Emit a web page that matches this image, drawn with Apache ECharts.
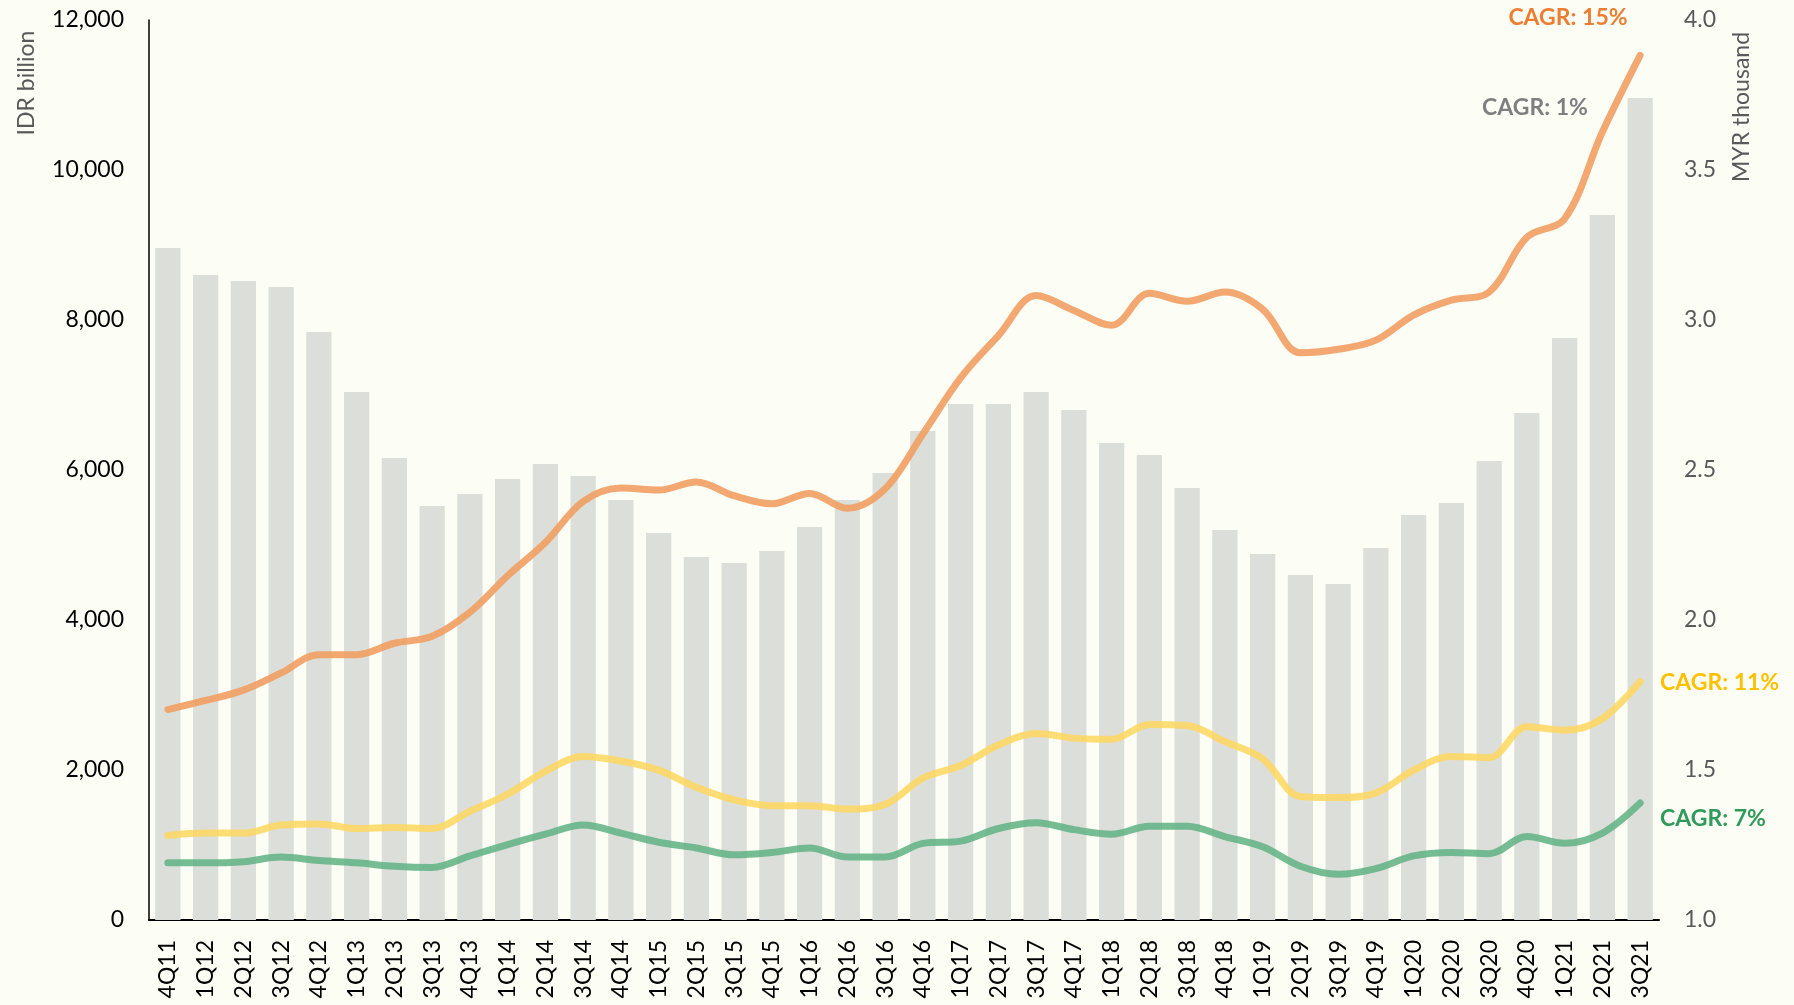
<!DOCTYPE html>
<html>
<head>
<meta charset="utf-8">
<script src="https://cdn.jsdelivr.net/npm/echarts@6/dist/echarts.min.js"></script>
<style>
  html, body { margin: 0; padding: 0; background: #FCFEF6; }
  #chart { width: 1794px; height: 1005px; }
</style>
</head>
<body>
<div id="chart"></div>
<script>
// quarters
var quarters = [
  '4Q11', '1Q12', '2Q12', '3Q12', '4Q12', '1Q13', '2Q13', '3Q13', '4Q13', '1Q14',
  '2Q14', '3Q14', '4Q14', '1Q15', '2Q15', '3Q15', '4Q15', '1Q16', '2Q16', '3Q16',
  '4Q16', '1Q17', '2Q17', '3Q17', '4Q17', '1Q18', '2Q18', '3Q18', '4Q18', '1Q19',
  '2Q19', '3Q19', '4Q19', '1Q20', '2Q20', '3Q20', '4Q20', '1Q21', '2Q21', '3Q21'
];

// grey bars, MYR thousand (right axis)
var barMyr = [
  3.24, 3.15, 3.13, 3.11, 2.96, 2.76, 2.54, 2.38, 2.42, 2.47,
  2.52, 2.48, 2.40, 2.29, 2.21, 2.19, 2.23, 2.31, 2.40, 2.49,
  2.63, 2.72, 2.72, 2.76, 2.70, 2.59, 2.55, 2.44, 2.30, 2.22,
  2.15, 2.12, 2.24, 2.35, 2.39, 2.53, 2.69, 2.94, 3.35, 3.74
];

// lines, IDR billion (left axis)
var orangeIdr = [
  2806, 2928, 3065, 3294, 3538, 3538, 3690, 3782, 4102, 4590,
  5032, 5580, 5760, 5733, 5840, 5657, 5550, 5688, 5490, 5749,
  6481, 7228, 7792, 8326, 8127, 7929, 8356, 8250, 8372, 8143,
  7563, 7609, 7731, 8066, 8265, 8372, 9103, 9350, 10506, 11528
];
var yellowIdr = [
  1128, 1159, 1159, 1266, 1281, 1220, 1235, 1220, 1449, 1677,
  1982, 2181, 2120, 1998, 1769, 1601, 1525, 1525, 1479, 1540,
  1891, 2059, 2333, 2486, 2425, 2409, 2608, 2592, 2379, 2150,
  1647, 1632, 1693, 1998, 2181, 2165, 2577, 2531, 2684, 3180
];
var greenIdr = [
  762, 762, 778, 839, 793, 762, 717, 701, 854, 1006,
  1144, 1266, 1159, 1037, 961, 869, 900, 961, 839, 839,
  1022, 1052, 1220, 1296, 1205, 1144, 1250, 1250, 1113, 976,
  717, 610, 686, 854, 900, 884, 1113, 1022, 1159, 1560
];

var font = 'Lato';

var chart = echarts.init(document.getElementById('chart'));
chart.setOption({
  backgroundColor: '#FCFEF6',
  animation: false,
  grid: { left: 149, right: 135, top: 20, bottom: 85 },
  xAxis: {
    type: 'category',
    data: quarters,
    axisLine: { lineStyle: { color: '#000', width: 2 } },
    axisTick: { show: false },
    axisLabel: { rotate: 90, margin: 20, color: '#000', fontSize: 23, fontFamily: font }
  },
  yAxis: [
    {
      type: 'value', min: 0, max: 12000, interval: 2000,
      axisLine: { show: true, lineStyle: { color: '#000', width: 1.5 } },
      axisTick: { show: false },
      splitLine: { show: false },
      axisLabel: {
        margin: 25, color: '#000', fontSize: 23, fontFamily: font,
        formatter: function (v) { return v.toLocaleString('en-US'); }
      }
    },
    {
      type: 'value', min: 1, max: 4, interval: 0.5,
      axisLine: { show: false },
      axisTick: { show: false },
      splitLine: { show: false },
      axisLabel: {
        margin: 25, color: '#595959', fontSize: 23, fontFamily: font,
        formatter: function (v) { return v.toFixed(1); }
      }
    }
  ],
  series: [
    {
      name: 'bars', type: 'bar', yAxisIndex: 1, data: barMyr,
      barCategoryGap: '33%',
      itemStyle: { color: '#DCDED9' }
    },
    {
      name: 'orange', type: 'line', yAxisIndex: 0, data: orangeIdr,
      smooth: 0.35, showSymbol: false, z: 5,
      lineStyle: { color: '#F19E62', width: 7, opacity: 0.9, cap: 'round' }
    },
    {
      name: 'yellow', type: 'line', yAxisIndex: 0, data: yellowIdr,
      smooth: 0.35, showSymbol: false, z: 5,
      lineStyle: { color: '#FFD75E', width: 7, opacity: 0.85, cap: 'round' }
    },
    {
      name: 'green', type: 'line', yAxisIndex: 0, data: greenIdr,
      smooth: 0.35, showSymbol: false, z: 5,
      lineStyle: { color: '#5FB283', width: 7, opacity: 0.85, cap: 'round' }
    }
  ],
  graphic: [
    {
      type: 'text', x: 27, y: 83, rotation: Math.PI / 2,
      style: { text: 'IDR billion', fill: '#595959', font: '23px Lato', textAlign: 'center', textVerticalAlign: 'middle' }
    },
    {
      type: 'text', x: 1742, y: 107, rotation: Math.PI / 2,
      style: { text: 'MYR thousand', fill: '#595959', font: '23px Lato', textAlign: 'center', textVerticalAlign: 'middle' }
    },
    {
      type: 'text', x: 1568, y: 18,
      style: { text: 'CAGR: 15%', fill: '#ED7D31', font: 'bold 23px Lato', textAlign: 'center', textVerticalAlign: 'middle' }
    },
    {
      type: 'text', x: 1535, y: 108,
      style: { text: 'CAGR: 1%', fill: '#7F7F7F', font: 'bold 23px Lato', textAlign: 'center', textVerticalAlign: 'middle' }
    },
    {
      type: 'text', x: 1660, y: 683,
      style: { text: 'CAGR: 11%', fill: '#FFC000', font: 'bold 23px Lato', textAlign: 'left', textVerticalAlign: 'middle' }
    },
    {
      type: 'text', x: 1660, y: 819,
      style: { text: 'CAGR: 7%', fill: '#2F9A5B', font: 'bold 23px Lato', textAlign: 'left', textVerticalAlign: 'middle' }
    }
  ]
});
</script>
</body>
</html>
